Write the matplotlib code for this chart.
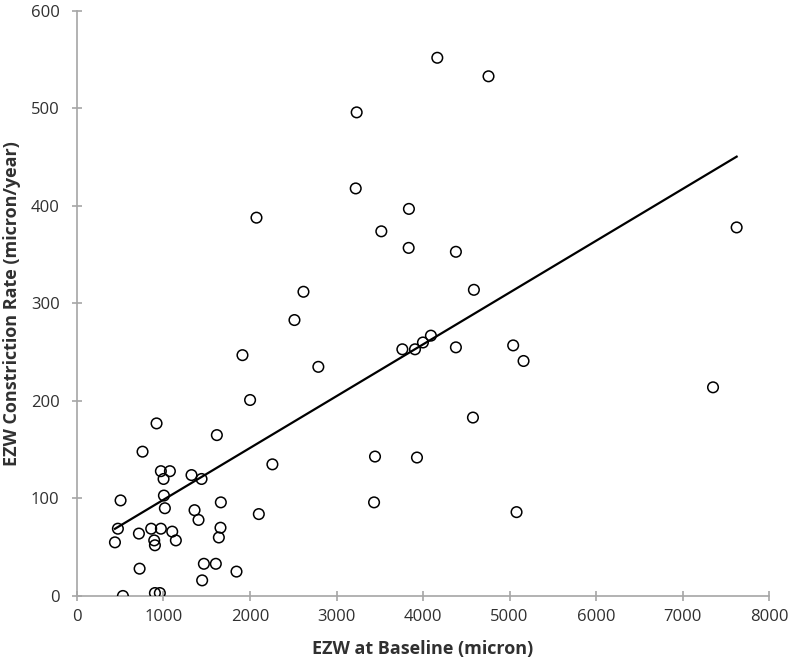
import numpy as np
import matplotlib
matplotlib.use("Agg")
import matplotlib.pyplot as plt

plt.rcParams['font.family'] = ['Open Sans', 'DejaVu Sans']

ezw_baseline = [4165, 4757, 3233, 3222, 3837, 2075, 3518, 3834, 4380, 4588,
                2618, 2514, 4091, 3999, 3907, 3761, 4380, 5042, 5162, 1913,
                2790, 2001, 4577, 1617, 3445, 3930, 2259, 1324, 1440, 1663,
                3434, 1359, 2102, 5081, 1405, 1659, 1640, 1467, 1605, 1844,
                1447, 920, 758, 970, 1074, 1001, 504, 1005, 1016, 473,
                716, 858, 970, 1101, 893, 901, 1143, 439, 724, 531,
                901, 958, 7352, 7625]
constriction_rate = [552, 533, 496, 418, 397, 388, 374, 357, 353, 314,
                     312, 283, 267, 260, 253, 253, 255, 257, 241, 247,
                     235, 201, 183, 165, 143, 142, 135, 124, 120, 96,
                     96, 88, 84, 86, 78, 70, 60, 33, 33, 25,
                     16, 177, 148, 128, 128, 120, 98, 103, 90, 69,
                     64, 69, 69, 66, 57, 52, 57, 55, 28, 0,
                     3, 3, 214, 378]

x_ticks = [0, 1000, 2000, 3000, 4000, 5000, 6000, 7000, 8000]
y_ticks = [0, 100, 200, 300, 400, 500, 600]
x_label = "EZW at Baseline (micron)"
y_label = "EZW Constriction Rate (micron/year)"

x = np.array(ezw_baseline, dtype=float)
y = np.array(constriction_rate, dtype=float)

fig = plt.figure(figsize=(7.91, 6.65), dpi=100)
ax = fig.add_axes([0.0973, 0.1038, 0.875, 0.8797])

ax.scatter(x, y, s=58, facecolors='none', edgecolors='black', linewidths=1.1, zorder=3)

slope, intercept = np.polyfit(x, y, 1)
xl = np.array([x.min(), x.max()])
ax.plot(xl, slope * xl + intercept, color='black', linewidth=1.6, zorder=4)

ax.set_xlim(0, 8000)
ax.set_ylim(0, 600)
ax.set_xticks(x_ticks)
ax.set_yticks(y_ticks)

for s in ['top', 'right']:
    ax.spines[s].set_visible(False)
for s in ['left', 'bottom']:
    ax.spines[s].set_color('#a6a6a6')
    ax.spines[s].set_linewidth(1.2)

ax.tick_params(direction='inout', length=7, width=1.2, color='#a6a6a6',
               labelsize=12, labelcolor='#303030')
ax.tick_params(axis='x', pad=6)
ax.tick_params(axis='y', pad=9)
ax.set_xlabel(x_label, fontsize=13, fontweight='bold', color='#303030', labelpad=11)
ax.set_ylabel(y_label, fontsize=13, fontweight='bold', color='#303030', labelpad=7)

fig.savefig("out.png", dpi=100)
